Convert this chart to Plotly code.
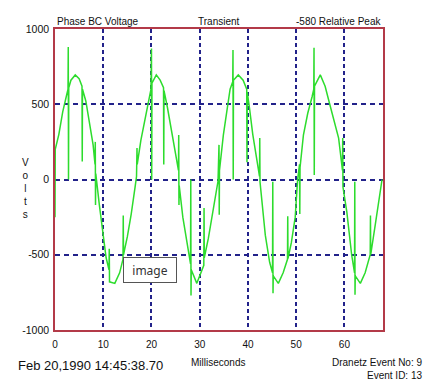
import plotly.graph_objects as go

# Waveform samples (time in ms, volts)
time_ms = [
    0.0, 0.05, 0.8, 1.6, 2.4, 2.7, 2.75, 2.8, 2.85, 3.3, 4.2, 5.0, 5.6, 5.65, 5.7,
    6.4, 7.2, 7.9, 8.3, 8.35, 8.4, 8.45, 9.2, 10.0, 10.6, 11.2, 11.25, 11.3, 12.4,
    13.4, 14.1, 14.15, 14.2, 15.0, 15.8, 16.6,
    16.9, 17.0, 17.05, 17.8, 18.5, 19.3, 19.9, 20.0, 20.05, 20.1, 21.0, 21.8, 22.5,
    22.55, 22.6, 23.3, 24.2, 25.0, 25.6, 25.65, 25.7, 25.75, 26.5, 27.3, 28.1, 28.15,
    28.2, 28.25, 29.4, 30.3, 30.85, 30.9, 30.95, 31.8, 32.4, 33.1, 33.8,
    34.0, 34.05, 34.1, 34.9, 35.6, 36.3, 36.85, 36.9, 36.95, 37.0, 38.0, 39.0, 39.75,
    39.8, 39.85, 40.3, 41.0, 41.8, 42.4, 42.45, 42.5, 43.6, 44.5, 45.1, 45.15, 45.2,
    45.25, 46.3, 47.3, 48.2, 48.25, 48.3, 49.0, 49.8, 50.3,
    50.7, 50.75, 50.8, 51.5, 52.4, 53.3, 53.65, 53.7, 53.75, 53.8, 55.0, 56.0, 57.0,
    58.0, 58.8, 59.6, 59.65, 59.7, 60.5, 61.5, 62.1, 62.15, 62.2, 62.25, 63.3, 64.3,
    65.35, 65.4, 65.45, 66.4, 67.2, 67.8,
]
volts = [
    -250, 200, 300, 450, 560, 600, 880, 0, 610, 660, 695, 670, 620, 120, 600,
    520, 380, 230, 100, 250, -170, 40, -170, -380, -520, -600, -460, -680, -690,
    -620, -530, -240, -500, -380, -230, -50,
    20, 210, 100, 260, 380, 500, 600, 870, 0, 640, 695, 660, 610,
    100, 590, 480, 320, 170, 60, 295, -170, -40, -250, -420, -560, 0,
    -770, -600, -690, -620, -570, -190, -520, -390, -280, -150, -10,
    230, -235, 60, 295, 450, 600, 650, 860, 0, 660, 695, 660, 600,
    115, 580, 480, 300, 140, 20, 275, -15, -370, -550, -620, -15, -755,
    -640, -690, -620, -530, -245, -525, -420, -250, 0,
    100, -230, 80, 295, 440, 550, 600, 875, 30, 620, 695, 620, 495,
    370, 275, 60, 275, -50, -215, -500, -620, -15, -765, -640, -690, -620,
    -500, -240, -500, -300, -120, 0,
]

x_ticks = [0, 10, 20, 30, 40, 50, 60]
x_grid = [10, 20, 30, 40, 50, 60]
y_ticks = [-1000, -500, 0, 500, 1000]
y_tick_text = ["-1000", "-500", "0", "500", "1000"]
y_grid = [-500, 0, 500]

FONT = "Liberation Sans, Arial, sans-serif"
BORDER = "#b33a48"
GRID = "#22228a"

fig = go.Figure()
fig.add_trace(go.Scatter(
    x=time_ms, y=volts, mode="lines",
    line=dict(color="#2ddc2d", width=1.5),
    hoverinfo="skip", showlegend=False,
))

# page body has an 8px margin: figure is shrunk/shifted so the plot area sits at 55..383 x 29..330
fig.update_layout(
    width=431, height=382,
    margin=dict(l=47, r=56, t=21, b=60),
    paper_bgcolor="white", plot_bgcolor="white",
    font=dict(family=FONT, size=10, color="#111111"),
    xaxis=dict(
        range=[0, 68], tickvals=x_ticks, ticks="", showgrid=False, zeroline=False,
        showline=True, linecolor=BORDER, linewidth=1.5, mirror=True,
        tickfont=dict(size=10, color="#111111"), ticklabelstandoff=4,
        minor=dict(tickvals=x_grid, showgrid=True, gridcolor=GRID,
                   griddash="4px,3px", gridwidth=1.5, ticks=""),
    ),
    yaxis=dict(
        range=[-1000, 1000], tickvals=y_ticks, ticktext=y_tick_text, ticks="",
        showgrid=False, zeroline=False,
        showline=True, linecolor=BORDER, linewidth=1.5, mirror=True,
        tickfont=dict(size=10.5, color="#111111"), ticklabelstandoff=2,
        minor=dict(tickvals=y_grid, showgrid=True, gridcolor=GRID,
                   griddash="5px,4px", gridwidth=1.5, ticks=""),
    ),
)

def ann(text, x, y, xanchor="center", yanchor="middle", size=10, **kw):
    fig.add_annotation(text=text, x=x, y=y, xref="paper", yref="paper",
                       xanchor=xanchor, yanchor=yanchor, showarrow=False,
                       font=dict(family=FONT, size=size, color="#111111"), **kw)

def px_x(p):
    return (p - 55) / 328.0

def px_y(p):
    return (330 - p) / 301.0

ann("Phase BC Voltage", px_x(55), px_y(21), xanchor="left")
ann("Transient", px_x(219), px_y(21))
ann("-580 Relative Peak", px_x(383), px_y(21), xanchor="right")
ann("V<br>o<br>l<br>t<br>s", px_x(25), px_y(189))
ann("Feb 20,1990 14:45:38.70", px_x(16), px_y(365), xanchor="left", size=13)
ann("Milliseconds", px_x(218), px_y(362))
ann("Dranetz Event No: 9", px_x(424), px_y(362), xanchor="right")
ann("Event ID: 13", px_x(424), px_y(376), xanchor="right")
fig.add_annotation(text="image", x=px_x(150), y=px_y(269.5), xref="paper", yref="paper",
                   showarrow=False, xanchor="center", yanchor="middle",
                   font=dict(family="Noto Sans, sans-serif", size=12, color="#333333"),
                   bgcolor="white", bordercolor="#555555", borderwidth=1,
                   width=50, height=22)

fig.write_html("out.html")
